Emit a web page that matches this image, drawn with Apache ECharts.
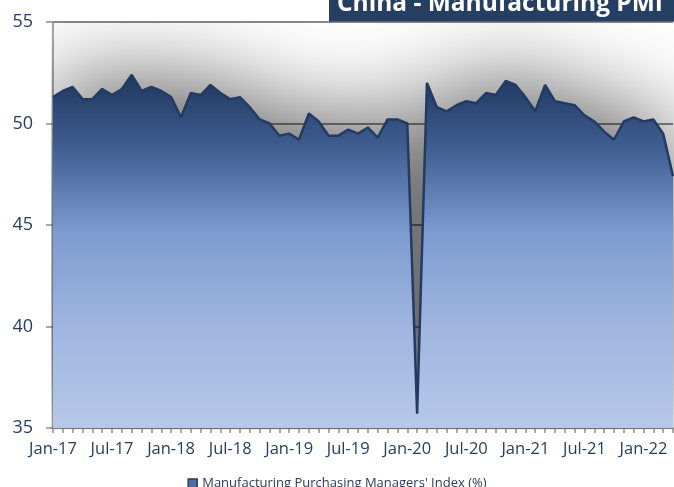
<!DOCTYPE html>
<html>
<head>
<meta charset="utf-8">
<title>China - Manufacturing PMI</title>
<script src="https://cdn.jsdelivr.net/npm/echarts@6/dist/echarts.min.js"></script>
<style>
  html, body { margin: 0; padding: 0; background: #ffffff; }
  #chart { width: 674px; height: 487px; }
</style>
</head>
<body>
<div id="chart"></div>
<script>
// Monthly categories, Jan 2017 – Apr 2022
const months = [
  'Jan-17','Feb-17','Mar-17','Apr-17','May-17','Jun-17','Jul-17','Aug-17','Sep-17','Oct-17','Nov-17','Dec-17',
  'Jan-18','Feb-18','Mar-18','Apr-18','May-18','Jun-18','Jul-18','Aug-18','Sep-18','Oct-18','Nov-18','Dec-18',
  'Jan-19','Feb-19','Mar-19','Apr-19','May-19','Jun-19','Jul-19','Aug-19','Sep-19','Oct-19','Nov-19','Dec-19',
  'Jan-20','Feb-20','Mar-20','Apr-20','May-20','Jun-20','Jul-20','Aug-20','Sep-20','Oct-20','Nov-20','Dec-20',
  'Jan-21','Feb-21','Mar-21','Apr-21','May-21','Jun-21','Jul-21','Aug-21','Sep-21','Oct-21','Nov-21','Dec-21',
  'Jan-22','Feb-22','Mar-22','Apr-22'
];

// Manufacturing Purchasing Managers' Index (%)
const pmi = [
  51.3, 51.6, 51.8, 51.2, 51.2, 51.7, 51.4, 51.7, 52.4, 51.6, 51.8, 51.6,
  51.3, 50.3, 51.5, 51.4, 51.9, 51.5, 51.2, 51.3, 50.8, 50.2, 50.0, 49.4,
  49.5, 49.2, 50.5, 50.1, 49.4, 49.4, 49.7, 49.5, 49.8, 49.3, 50.2, 50.2,
  50.0, 35.7, 52.0, 50.8, 50.6, 50.9, 51.1, 51.0, 51.5, 51.4, 52.1, 51.9,
  51.3, 50.6, 51.9, 51.1, 51.0, 50.9, 50.4, 50.1, 49.6, 49.2, 50.1, 50.3,
  50.1, 50.2, 49.5, 47.4
];

// Value axis range
const yMin = 35;
const yMax = 55;
const yStep = 5;

const seriesName = "Manufacturing Purchasing Managers' Index (%)";
const chartTitle = 'China - Manufacturing PMI';

const navy = '#243f61';
const axisGray = '#8e8e8e';

const chart = echarts.init(document.getElementById('chart'), null, { renderer: 'canvas' });

chart.setOption({
  animation: false,
  backgroundColor: '#ffffff',
  graphic: [
    {
      type: 'rect',
      z: 100,
      shape: { x: 329, y: -2, width: 360, height: 23.5 },
      style: { fill: navy }
    },
    {
      type: 'text',
      z: 101,
      x: 337,
      y: 4.5,
      style: {
        text: chartTitle,
        fill: '#ffffff',
        font: 'bold 24.5px "Open Sans"',
        verticalAlign: 'middle',
        align: 'left'
      }
    }
  ],
  grid: {
    left: 53,
    right: 1,
    top: 22,
    bottom: 59,
    containLabel: false
  },
  legend: {
    top: 472,
    left: 'center',
    icon: 'rect',
    itemWidth: 9,
    itemHeight: 9,
    itemGap: 10,
    textStyle: {
      fontFamily: '"Open Sans"',
      fontSize: 13,
      color: '#2c3a52'
    },
    data: [{
      name: seriesName,
      itemStyle: { color: '#4d6da3', borderColor: navy, borderWidth: 1.5 }
    }]
  },
  xAxis: {
    type: 'category',
    data: months,
    boundaryGap: false,
    axisLine: { show: true, lineStyle: { color: axisGray, width: 1.5 } },
    axisTick: {
      show: true,
      interval: 0,
      length: 5,
      lineStyle: { color: axisGray, width: 1.5 }
    },
    axisLabel: {
      interval: 5,
      margin: 13,
      fontFamily: '"Open Sans"',
      fontSize: 16.5,
      color: navy
    },
    splitLine: { show: false }
  },
  yAxis: {
    type: 'value',
    min: yMin,
    max: yMax,
    interval: yStep,
    axisLine: { show: true, lineStyle: { color: axisGray, width: 1.5 } },
    axisTick: {
      show: true,
      inside: false,
      length: 7,
      lineStyle: { color: axisGray, width: 1.5 }
    },
    axisLabel: {
      margin: 20,
      fontFamily: '"Open Sans"',
      fontSize: 18,
      color: navy
    },
    splitLine: {
      show: true,
      lineStyle: { color: '#8a8a8a', width: 2 }
    }
  },
  series: [{
    name: seriesName,
    type: 'line',
    data: pmi,
    clip: true,
    symbol: 'none',
    smooth: false,
    lineStyle: { color: '#213b62', width: 2.5 },
    areaStyle: {
      origin: 'start',
      opacity: 1,
      color: new echarts.graphic.LinearGradient(0, 0, 0, 1, [
        { offset: 0, color: '#1f375f' },
        { offset: 0.2, color: '#3f5c8f' },
        { offset: 0.45, color: '#7e9cd0' },
        { offset: 0.72, color: '#a0b6df' },
        { offset: 1, color: '#b5c8e8' }
      ]),
      shadowColor: 'rgba(0, 0, 0, 0.6)',
      shadowBlur: 90,
      shadowOffsetY: -12
    }
  }]
});
</script>
</body>
</html>
